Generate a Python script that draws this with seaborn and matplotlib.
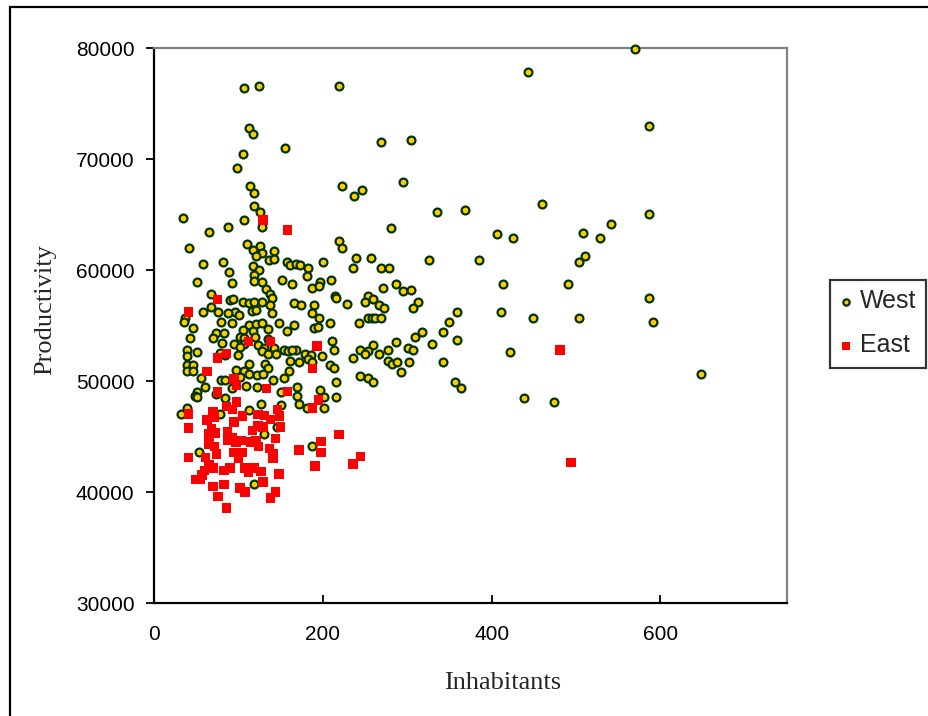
import matplotlib
matplotlib.use("Agg")
import matplotlib.pyplot as plt
import seaborn as sns
import pandas as pd
from matplotlib.patches import Rectangle

# ---- data ----
west_x = [570, 443, 107, 124, 219, 587, 113, 117, 155, 269, 304, 105, 98, 295, 223, 247, 237, 114, 119, 460,
          119, 126, 586, 368, 335, 34, 107, 128, 88, 281, 541, 65, 406, 425, 508, 529, 41, 110, 219, 223,
          117, 126, 128, 142, 136, 142, 121, 58, 82, 158, 161, 168, 173, 200, 239, 257, 326, 385, 503, 511,
          117, 89, 124, 183, 236, 269, 279, 51, 119, 118, 128, 152, 164, 181, 197, 210, 93, 187, 195, 287,
          413, 491, 271, 295, 305, 133, 137, 140, 67, 215, 216, 253, 260, 313, 586, 90, 94, 106, 112, 119,
          128, 138, 166, 174, 190, 229, 250, 267, 272, 307, 67, 76, 96, 101, 116, 121, 140, 187, 58, 88,
          359, 411, 37, 36, 79, 93, 113, 121, 128, 148, 166, 189, 194, 196, 208, 243, 253, 258, 262, 269,
          349, 449, 503, 591, 46, 105, 117, 135, 158, 74, 83, 102, 107, 43, 70, 120, 135, 318, 342, 309,
          211, 287, 329, 359, 81, 95, 107, 123, 102, 142, 130, 128, 168, 154, 159, 164, 213, 259, 244, 253,
          277, 301, 307, 422, 39, 51, 39, 78, 84, 99, 135, 145, 179, 186, 199, 236, 250, 267, 39, 46,
          39, 46, 112, 131, 135, 161, 172, 182, 187, 208, 213, 277, 282, 288, 302, 342, 56, 97, 107, 112,
          102, 122, 129, 154, 160, 79, 84, 141, 244, 253, 259, 216, 293, 648, 357, 364, 61, 93, 109, 122,
          150, 169, 197, 51, 49, 51, 74, 169, 201, 216, 438, 474, 84, 127, 151, 172, 181, 201, 39, 112,
          32, 78, 146, 130, 187, 53, 118]
west_y = [79900, 77860, 76420, 76580, 76580, 72960, 72800, 72260, 71030, 71560, 71730, 70450, 69220, 67940, 67570,
          67240, 66710, 67570, 66910, 65970, 65800, 65270, 65060, 65430, 65270, 64690, 64530, 63870, 63830, 63790,
          64160, 63460, 63250, 62920, 63290, 62920, 62020, 62350, 62590, 62020, 61810, 62180, 61560, 61690, 60870,
          60950, 61280, 60580, 60740, 60740, 60450, 60580, 60450, 60740, 61070, 61070, 60870, 60870, 60740, 61280,
          60330, 59800, 60000, 60210, 60210, 60210, 60170, 58930, 59590, 58970, 58930, 59140, 58730, 59470, 58930,
          59140, 58810, 58400, 58560, 58730, 58730, 58770, 58400, 58110, 58240, 58280, 57860, 57490, 57860, 57700,
          57490, 57700, 57410, 57080, 57490, 57290, 57370, 57120, 57000, 57160, 57080, 56830, 57040, 56830, 56830,
          56960, 57160, 56830, 56590, 56590, 56670, 56210, 56210, 55930, 56290, 56420, 56130, 56170, 56210, 56090,
          56210, 56210, 55720, 55310, 55350, 55230, 55060, 55100, 55230, 55190, 55060, 54730, 54860, 55640, 55230,
          55190, 55680, 55640, 55640, 55680, 55310, 55680, 55640, 55310, 54780, 54610, 54530, 54650, 54490, 54280,
          54280, 53990, 53870, 53870, 53870, 53990, 53790, 54400, 54400, 53990, 53580, 53540, 53330, 53710, 53380,
          53330, 53290, 53210, 53050, 52960, 52960, 52720, 52750, 52750, 52700, 52750, 52800, 53210, 52760, 52720,
          52800, 53010, 52800, 52640, 52800, 52640, 52270, 52550, 52350, 52350, 52430, 52470, 52470, 52350, 52270,
          52060, 52390, 52390, 51400, 51400, 50910, 50910, 51530, 51530, 51200, 51810, 51690, 51940, 51730, 51400,
          51150, 51770, 51530, 51730, 51730, 51730, 50290, 50990, 50910, 50660, 50330, 50500, 50660, 50250, 50910,
          50080, 50080, 50080, 50410, 50290, 49920, 49920, 50780, 50660, 49920, 49390, 49430, 49390, 49510, 49430,
          49010, 49430, 49220, 49010, 48640, 48520, 48850, 48680, 48520, 48520, 48480, 48110, 48440, 47940, 47820,
          47940, 47570, 47570, 47570, 47410, 47040, 47040, 45850, 45230, 44160, 43580, 40700]

east_x = [129, 158, 41, 75, 481, 494, 112, 138, 86, 75, 193, 63, 188, 95, 98, 133, 158, 75, 195, 98,
          86, 93, 188, 146, 41, 70, 123, 131, 105, 149, 63, 72, 138, 95, 123, 129, 150, 41, 117, 68,
          87, 65, 73, 219, 93, 87, 104, 144, 97, 114, 121, 198, 65, 72, 124, 137, 172, 198, 105, 74,
          94, 141, 245, 41, 61, 100, 141, 65, 236, 191, 70, 90, 108, 119, 60, 83, 112, 127, 148, 57,
          49, 55, 83, 129, 70, 102, 108, 144, 76, 138, 86]
east_y = [64490, 63620, 56210, 57330, 52800, 42680, 53540, 53540, 52470, 52060, 53170, 50870, 51150, 50170, 49590,
          49340, 49050, 49010, 48270, 48110, 47700, 47410, 47570, 47410, 47040, 47200, 46960, 46870, 46830, 46830,
          46500, 46710, 46540, 46300, 45930, 45850, 45850, 45770, 45560, 45680, 45440, 45230, 45310, 45190, 44900,
          44700, 44660, 44820, 44450, 44490, 44610, 44570, 44330, 44080, 44120, 43910, 43790, 43580, 43580, 43420,
          43580, 43420, 43210, 43090, 43090, 43010, 43010, 42470, 42510, 42350, 42180, 42180, 42180, 42180, 41940,
          41940, 41770, 41850, 41610, 41530, 41120, 41120, 40700, 40910, 40500, 40370, 40000, 40000, 39590, 39470,
          38560]

series_names = ["West", "East"]
x_ticks = [0, 200, 400, 600]
y_ticks = [30000, 40000, 50000, 60000, 70000, 80000]
x_label = "Inhabitants"
y_label = "Productivity"

# ---- plot ----
sns.set_theme(style="white")
plt.rcParams["font.family"] = ["Liberation Sans", "DejaVu Sans"]

W, H = 929, 716
fig = plt.figure(figsize=(W / 100, H / 100), dpi=100)
fig.patch.set_facecolor("white")

# outer chart border (cut at right and bottom like the reference)
fig.patches.append(Rectangle((10 / W, -0.05), 1.2, 1 - 7 / H + 0.05, transform=fig.transFigure,
                             fill=False, edgecolor="black", linewidth=1.6, zorder=0))

left, right, top, bottom = 154 / W, 787 / W, 1 - 48 / H, 1 - 603 / H
ax = fig.add_axes([left, bottom, right - left, top - bottom])

west = pd.DataFrame({"Inhabitants": west_x, "Productivity": west_y})
east = pd.DataFrame({"Inhabitants": east_x, "Productivity": east_y})

sns.scatterplot(data=west, x="Inhabitants", y="Productivity", ax=ax, marker="o", s=32,
                color="#FFCC00", edgecolor="#003300", linewidth=1.6, label=series_names[0],
                zorder=3, clip_on=False)
sns.scatterplot(data=east, x="Inhabitants", y="Productivity", ax=ax, marker="s", s=46,
                color="#FF0000", edgecolor="none", linewidth=0, label=series_names[1],
                zorder=4, clip_on=False)

ax.set_xlim(0, 750)
ax.set_ylim(30000, 80000)
ax.set_xticks(x_ticks)
ax.set_yticks(y_ticks)
ax.set_xlabel("")
ax.set_ylabel("")

for side in ["left", "bottom"]:
    ax.spines[side].set_color("black")
    ax.spines[side].set_linewidth(1.6)
for side in ["top", "right"]:
    ax.spines[side].set_color("#808080")
    ax.spines[side].set_linewidth(1.6)

ax.tick_params(axis="y", direction="out", length=6, width=1.3, colors="black",
               labelsize=15, pad=8, left=True)
ax.tick_params(axis="x", direction="in", length=6, width=1.3, colors="black",
               labelsize=15, pad=16, bottom=True)

fig.text(503 / W, 1 - 683 / H, x_label, ha="center", va="center",
         fontfamily="Liberation Serif", fontsize=19)
fig.text(45 / W, 1 - 310 / H, y_label, ha="center", va="center", rotation=90,
         fontfamily="Liberation Serif", fontsize=19)

handles, labels = ax.get_legend_handles_labels()
leg = ax.legend(handles, labels, loc="center left", bbox_to_anchor=(830 / W, 1 - 323.5 / H),
                bbox_transform=fig.transFigure, frameon=True, fancybox=False,
                edgecolor="black", fontsize=18, handlelength=0.5, handletextpad=0.3,
                borderpad=0.4, labelspacing=0.8, markerscale=0.8, borderaxespad=0)
leg.get_frame().set_linewidth(1.6)

fig.savefig("out.png", dpi=100, facecolor="white")
